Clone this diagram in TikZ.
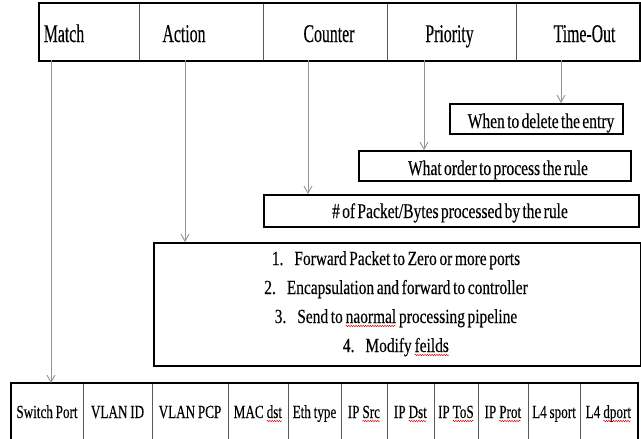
\documentclass[tikz,border=0pt]{standalone}
\usepackage{fontspec}
\setmainfont{Liberation Serif}
\newfontfamily\hdfont[FakeStretch=0.62,FakeBold=0.25]{Liberation Serif}
\newfontfamily\bxfont[FakeStretch=0.74,FakeBold=0.25,WordSpace=0.6]{Liberation Serif}
\newfontfamily\lsfont[FakeStretch=0.77,FakeBold=0.25,WordSpace=0.7]{Liberation Serif}
\newfontfamily\clfont[FakeStretch=0.71,FakeBold=0.2,WordSpace=0.85]{Liberation Serif}
\usetikzlibrary{arrows.meta,decorations.pathmorphing}
\newcommand\rwave[1]{\tikz[x=1pt,y=1pt,baseline=(w.base)]{\node[inner sep=0pt,outer sep=0pt,anchor=base] (w) {#1};
  \draw[red!85!black,line width=0.45pt,decorate,decoration={snake,amplitude=0.7pt,segment length=2.4pt}] ([yshift=-3pt]w.base west) -- ([yshift=-3pt]w.base east);}}
\begin{document}
\begin{tikzpicture}[x=1pt,y=-1pt,
  frame/.style={draw=black,line width=1.8pt},
  cellbox/.style={draw=gray!70!black,line width=0.8pt,minimum height=#1,inner sep=0pt,anchor=north west},
  infobox/.style={draw=black,line width=1.6pt,inner sep=0pt,anchor=north west},
  conn/.style={draw=gray!85,line width=0.9pt,-{Straight Barb[length=7pt,width=8pt]}},
  hd/.style={font=\hdfont\fontsize{25.5}{30}\selectfont,anchor=base,inner sep=0pt,text=black},
  bt/.style={font=\bxfont\fontsize{21}{25}\selectfont,anchor=base,inner sep=0pt,text=black},
  ls/.style={font=\lsfont\fontsize{20}{24}\selectfont,anchor=base,inner sep=0pt,text=black},
  cl/.style={font=\clfont\fontsize{18.5}{22}\selectfont,anchor=base,inner sep=0pt,text=black}]
\useasboundingbox (0,0) rectangle (641,439);
\clip (0,0) rectangle (641,439);
\fill[white] (0,0) rectangle (641,439);

% top table
\node[cellbox=57pt,minimum width=100pt] (tm) at (39,3) {};
\node[cellbox=57pt,minimum width=124pt] (ta) at (139,3) {};
\node[cellbox=57pt,minimum width=124pt] (tc) at (263,3) {};
\node[cellbox=57pt,minimum width=129pt] (tp) at (387,3) {};
\node[cellbox=57pt,minimum width=123pt] (tt) at (516,3) {};
\draw[frame] (tm.north west) rectangle (tt.south east);
\node[hd] (lm) at (64,42) {Match};
\node[hd] (la) at (184,42) {Action};
\node[hd] (lc) at (329,42) {Counter};
\node[hd] (lp) at (449.5,42) {Priority};
\node[hd] (lt) at (584.5,42) {Time-Out};

% info boxes
\node[infobox,minimum width=173pt,minimum height=30pt] (del) at (449,103) {};
\node[bt] at (541,128) {When to delete the entry};
\node[infobox,minimum width=272pt,minimum height=30pt] (ord) at (358,150) {};
\node[bt] at (498,175) {What order to process the rule};
\node[infobox,minimum width=375pt,minimum height=32pt] (cnt) at (263,194) {};
\node[bt] at (450,218) {\# of Packet/Bytes processed by the rule};
\node[infobox,minimum width=487pt,minimum height=123pt] (act) at (153,242) {};
\node[ls] at (396,265) {1.\hspace{11pt}Forward Packet to Zero or more ports};
\node[ls] at (396,294) {2.\hspace{11pt}Encapsulation and forward to controller};
\node[ls] at (396,323) {3.\hspace{11pt}Send to \rwave{naormal} processing pipeline};
\node[ls] at (396,352) {4.\hspace{11pt}Modify \rwave{feilds}};

% bottom table
\node[cellbox=62pt,minimum width=72pt] (b1) at (11,383) {};
\node[cellbox=62pt,minimum width=69pt] (b2) at (83,383) {};
\node[cellbox=62pt,minimum width=76pt] (b3) at (152,383) {};
\node[cellbox=62pt,minimum width=60pt] (b4) at (228,383) {};
\node[cellbox=62pt,minimum width=53pt] (b5) at (288,383) {};
\node[cellbox=62pt,minimum width=46pt] (b6) at (341,383) {};
\node[cellbox=62pt,minimum width=47pt] (b7) at (387,383) {};
\node[cellbox=62pt,minimum width=44pt] (b8) at (434,383) {};
\node[cellbox=62pt,minimum width=50pt] (b9) at (478,383) {};
\node[cellbox=62pt,minimum width=52pt] (b10) at (528,383) {};
\node[cellbox=62pt,minimum width=57pt] (b11) at (580,383) {};
\draw[frame] (b1.south west) -- (b1.north west) -- (b11.north east) -- (b11.south east);
\node[cl] at (47,418) {Switch Port};
\node[cl] at (117.5,418) {VLAN ID};
\node[cl] at (190,418) {VLAN PCP};
\node[cl] at (258,418) {MAC \rwave{dst}};
\node[cl] at (314.5,418) {Eth type};
\node[cl] at (364,418) {IP \rwave{Src}};
\node[cl] at (410.5,418) {IP \rwave{Dst}};
\node[cl] at (456,418) {IP \rwave{ToS}};
\node[cl] at (503,418) {IP \rwave{Prot}};
\node[cl] at (554,418) {L4 sport};
\node[cl] at (608.5,418) {L4 \rwave{dport}};

% connectors
\coordinate (sm) at (51,60);
\coordinate (sa) at (185,60);
\coordinate (sc) at (308,60);
\coordinate (sp) at (424,60);
\coordinate (st) at (561,60);
\draw[conn] (sm) -- (sm |- b1.north);
\draw[conn] (sa) -- (sa |- act.north);
\draw[conn] (sc) -- (sc |- cnt.north);
\draw[conn] (sp) -- (sp |- ord.north);
\draw[conn] (st) -- (st |- del.north);
\end{tikzpicture}
\end{document}
